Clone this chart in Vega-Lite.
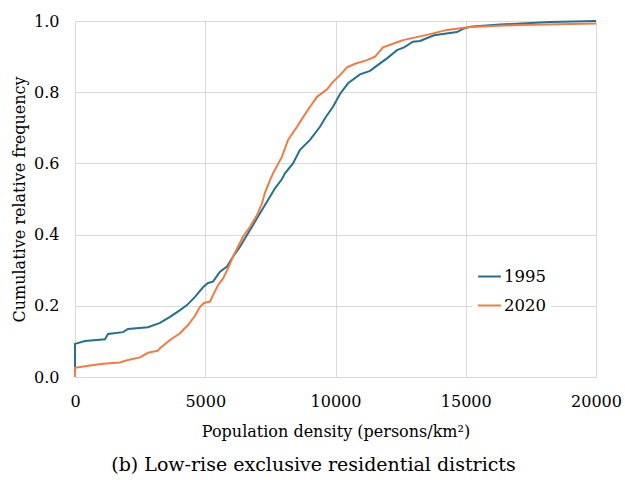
{
  "$schema": "https://vega.github.io/schema/vega-lite/v6.json",
  "width": 521,
  "height": 356,
  "autosize": {"type": "none"},
  "padding": {"left": 75, "top": 21, "right": 29, "bottom": 103},
  "background": "white",
  "title": {
    "text": "(b) Low-rise exclusive residential districts",
    "orient": "bottom",
    "anchor": "middle",
    "frame": "group",
    "dx": -22,
    "offset": 17,
    "font": "DejaVu Serif",
    "fontSize": 19,
    "fontWeight": "normal",
    "color": "#000000"
  },
  "config": {
    "view": {"stroke": "#d9d9d9", "strokeWidth": 1},
    "axis": {
      "labelFont": "DejaVu Serif",
      "titleFont": "DejaVu Serif",
      "labelFontSize": 16,
      "titleFontSize": 16,
      "titleFontWeight": "normal",
      "labelColor": "#000000",
      "titleColor": "#000000",
      "gridColor": "#d9d9d9",
      "gridWidth": 1,
      "domain": false,
      "ticks": false,
      "labelFlush": false
    }
  },
  "data": {
    "values": [
      {"year": "1995", "density": 0, "cum": 0.025},
      {"year": "1995", "density": 0, "cum": 0.093},
      {"year": "1995", "density": 384, "cum": 0.101},
      {"year": "1995", "density": 1152, "cum": 0.106},
      {"year": "1995", "density": 1267, "cum": 0.121},
      {"year": "1995", "density": 1843, "cum": 0.126},
      {"year": "1995", "density": 2035, "cum": 0.135},
      {"year": "1995", "density": 2802, "cum": 0.140},
      {"year": "1995", "density": 3263, "cum": 0.152},
      {"year": "1995", "density": 3647, "cum": 0.169},
      {"year": "1995", "density": 4031, "cum": 0.188},
      {"year": "1995", "density": 4300, "cum": 0.202},
      {"year": "1995", "density": 4607, "cum": 0.225},
      {"year": "1995", "density": 4914, "cum": 0.252},
      {"year": "1995", "density": 5106, "cum": 0.264},
      {"year": "1995", "density": 5298, "cum": 0.268},
      {"year": "1995", "density": 5566, "cum": 0.296},
      {"year": "1995", "density": 5835, "cum": 0.310},
      {"year": "1995", "density": 6065, "cum": 0.338},
      {"year": "1995", "density": 6334, "cum": 0.366},
      {"year": "1995", "density": 6603, "cum": 0.399},
      {"year": "1995", "density": 6795, "cum": 0.422},
      {"year": "1995", "density": 7102, "cum": 0.460},
      {"year": "1995", "density": 7409, "cum": 0.497},
      {"year": "1995", "density": 7678, "cum": 0.530},
      {"year": "1995", "density": 7946, "cum": 0.556},
      {"year": "1995", "density": 8061, "cum": 0.572},
      {"year": "1995", "density": 8368, "cum": 0.600},
      {"year": "1995", "density": 8637, "cum": 0.638},
      {"year": "1995", "density": 9021, "cum": 0.666},
      {"year": "1995", "density": 9405, "cum": 0.703},
      {"year": "1995", "density": 9635, "cum": 0.731},
      {"year": "1995", "density": 9904, "cum": 0.759},
      {"year": "1995", "density": 10173, "cum": 0.795},
      {"year": "1995", "density": 10480, "cum": 0.825},
      {"year": "1995", "density": 10941, "cum": 0.850},
      {"year": "1995", "density": 11325, "cum": 0.860},
      {"year": "1995", "density": 11708, "cum": 0.881},
      {"year": "1995", "density": 11977, "cum": 0.895},
      {"year": "1995", "density": 12361, "cum": 0.918},
      {"year": "1995", "density": 12630, "cum": 0.926},
      {"year": "1995", "density": 12975, "cum": 0.942},
      {"year": "1995", "density": 13244, "cum": 0.944},
      {"year": "1995", "density": 13781, "cum": 0.960},
      {"year": "1995", "density": 14665, "cum": 0.969},
      {"year": "1995", "density": 14895, "cum": 0.978},
      {"year": "1995", "density": 15163, "cum": 0.984},
      {"year": "1995", "density": 16315, "cum": 0.990},
      {"year": "1995", "density": 18234, "cum": 0.997},
      {"year": "1995", "density": 20000, "cum": 1.0},
      {"year": "2020", "density": 0, "cum": 0.0},
      {"year": "2020", "density": 0, "cum": 0.026},
      {"year": "2020", "density": 576, "cum": 0.032},
      {"year": "2020", "density": 1075, "cum": 0.037},
      {"year": "2020", "density": 1727, "cum": 0.041},
      {"year": "2020", "density": 2035, "cum": 0.048},
      {"year": "2020", "density": 2495, "cum": 0.055},
      {"year": "2020", "density": 2802, "cum": 0.068},
      {"year": "2020", "density": 3186, "cum": 0.074},
      {"year": "2020", "density": 3263, "cum": 0.081},
      {"year": "2020", "density": 3647, "cum": 0.104},
      {"year": "2020", "density": 4031, "cum": 0.123},
      {"year": "2020", "density": 4338, "cum": 0.146},
      {"year": "2020", "density": 4607, "cum": 0.172},
      {"year": "2020", "density": 4799, "cum": 0.197},
      {"year": "2020", "density": 4952, "cum": 0.208},
      {"year": "2020", "density": 5182, "cum": 0.212},
      {"year": "2020", "density": 5298, "cum": 0.230},
      {"year": "2020", "density": 5490, "cum": 0.258},
      {"year": "2020", "density": 5682, "cum": 0.277},
      {"year": "2020", "density": 5874, "cum": 0.305},
      {"year": "2020", "density": 6065, "cum": 0.338},
      {"year": "2020", "density": 6257, "cum": 0.366},
      {"year": "2020", "density": 6449, "cum": 0.394},
      {"year": "2020", "density": 6718, "cum": 0.422},
      {"year": "2020", "density": 6987, "cum": 0.455},
      {"year": "2020", "density": 7179, "cum": 0.488},
      {"year": "2020", "density": 7294, "cum": 0.518},
      {"year": "2020", "density": 7486, "cum": 0.553},
      {"year": "2020", "density": 7601, "cum": 0.572},
      {"year": "2020", "density": 7946, "cum": 0.619},
      {"year": "2020", "density": 8177, "cum": 0.666},
      {"year": "2020", "density": 8522, "cum": 0.703},
      {"year": "2020", "density": 8714, "cum": 0.725},
      {"year": "2020", "density": 9021, "cum": 0.759},
      {"year": "2020", "density": 9290, "cum": 0.787},
      {"year": "2020", "density": 9674, "cum": 0.808},
      {"year": "2020", "density": 9904, "cum": 0.829},
      {"year": "2020", "density": 10173, "cum": 0.848},
      {"year": "2020", "density": 10442, "cum": 0.870},
      {"year": "2020", "density": 10749, "cum": 0.880},
      {"year": "2020", "density": 11210, "cum": 0.890},
      {"year": "2020", "density": 11517, "cum": 0.900},
      {"year": "2020", "density": 11824, "cum": 0.926},
      {"year": "2020", "density": 12476, "cum": 0.943},
      {"year": "2020", "density": 12630, "cum": 0.947},
      {"year": "2020", "density": 13512, "cum": 0.961},
      {"year": "2020", "density": 14281, "cum": 0.975},
      {"year": "2020", "density": 15163, "cum": 0.983},
      {"year": "2020", "density": 17083, "cum": 0.989},
      {"year": "2020", "density": 20000, "cum": 0.993}
    ]
  },
  "mark": {"type": "line", "strokeWidth": 2, "interpolate": "linear"},
  "encoding": {
    "x": {
      "field": "density",
      "type": "quantitative",
      "scale": {"domain": [0, 20000], "nice": false},
      "axis": {
        "values": [0, 5000, 10000, 15000, 20000],
        "format": "d",
        "labelPadding": 16,
        "title": "Population density (persons/km²)",
        "titlePadding": 14
      }
    },
    "y": {
      "field": "cum",
      "type": "quantitative",
      "scale": {"domain": [0, 1], "nice": false},
      "axis": {
        "values": [0, 0.2, 0.4, 0.6, 0.8, 1.0],
        "format": ".1f",
        "labelPadding": 16,
        "title": "Cumulative relative frequency",
        "titlePadding": 6
      }
    },
    "color": {
      "field": "year",
      "type": "nominal",
      "scale": {"domain": ["1995", "2020"], "range": ["#24708f", "#f27b3f"]},
      "legend": {
        "title": null,
        "orient": "none",
        "legendX": 397,
        "legendY": 238,
        "fillColor": "white",
        "padding": 5,
        "symbolType": "stroke",
        "symbolSize": 520,
        "symbolStrokeWidth": 2,
        "labelFont": "DejaVu Serif",
        "labelFontSize": 16.5,
        "labelColor": "#000000",
        "labelOffset": 2,
        "rowPadding": 8
      }
    }
  }
}
